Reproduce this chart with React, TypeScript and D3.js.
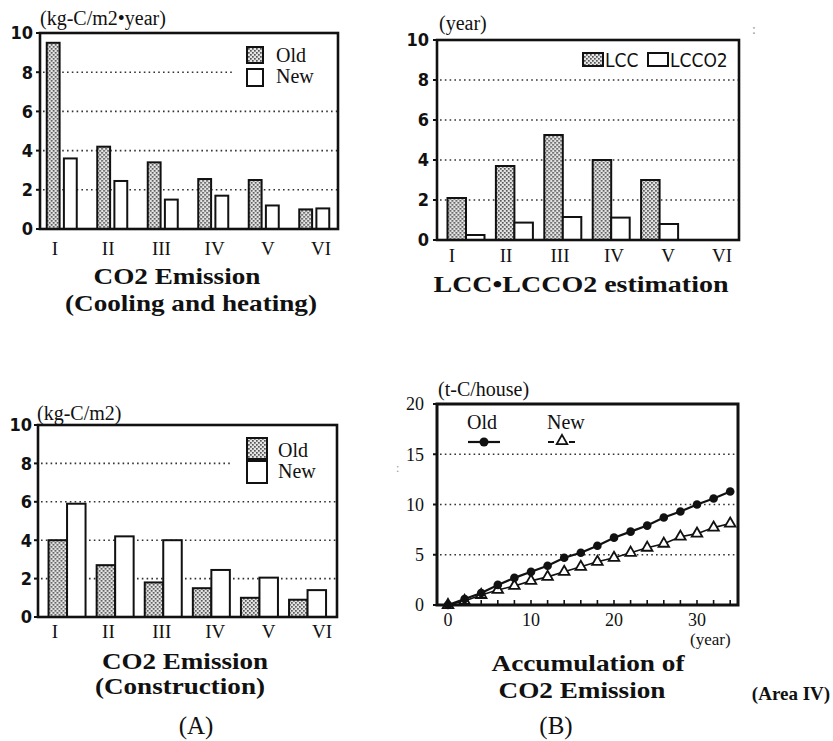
import React from "react";
import * as d3 from "d3";

// ---- data ----
const categories = ["I", "II", "III", "IV", "V", "VI"];
const coolingOld = [9.5, 4.2, 3.4, 2.55, 2.5, 1.0];
const coolingNew = [3.6, 2.45, 1.5, 1.7, 1.2, 1.05];
const lccYears = [2.1, 3.7, 5.25, 4.0, 3.0, 0];
const lcco2Years = [0.25, 0.87, 1.15, 1.12, 0.8, 0];
const constructionOld = [4.0, 2.7, 1.8, 1.5, 1.0, 0.9];
const constructionNew = [5.9, 4.2, 4.0, 2.45, 2.05, 1.4];
const barTicks = [0, 2, 4, 6, 8, 10];

const years = [0, 2, 4, 6, 8, 10, 12, 14, 16, 18, 20, 22, 24, 26, 28, 30, 32, 34];
const accumOld = [0, 0.6, 1.2, 2.0, 2.7, 3.3, 3.9, 4.7, 5.2, 5.9, 6.7, 7.3, 7.9, 8.7, 9.3, 10.0, 10.6, 11.3];
const accumNew = [0, 0.4, 1.0, 1.5, 1.9, 2.4, 2.8, 3.3, 3.8, 4.3, 4.7, 5.2, 5.7, 6.1, 6.8, 7.1, 7.7, 8.1];
const accumYTicks = [0, 5, 10, 15, 20];
const accumXTicks = [0, 10, 20, 30];

const W = 833;
const H = 741;
const serif = "Liberation Serif, Times New Roman, serif";
const narrow = "Liberation Sans Narrow, DejaVu Sans Condensed, sans-serif";

type Frame = { left: number; right: number; top: number; bottom: number };

function BarPanel(props: any) {
  const { frame, seriesA, seriesB, bandRange, groupWidth, pad, labelRange, labelY, tickRight, grid8End, unit, legend, titles, tickFont } = props;
  const f: Frame = frame;
  const y = d3.scaleLinear().domain([0, 10]).range([f.bottom, f.top]);
  const xGroup = d3.scaleBand<string>().domain(categories).range(bandRange);
  const xInner = d3.scaleBand<string>().domain(["a", "b"]).range([0, groupWidth]).paddingInner(pad);
  const xLabel = d3.scalePoint<string>().domain(categories).range(labelRange);
  const off = xGroup.bandwidth() / 2 - groupWidth / 2;

  return (
    <g>
      {/* gridlines */}
      {barTicks.filter((t) => t > 0 && t < 10).map((t) => (
        <line key={t} x1={f.left + 3} x2={t === 8 && grid8End ? grid8End : f.right} y1={y(t)} y2={y(t)}
          stroke="#333" strokeWidth={1.6} strokeDasharray="1.6,3.2" />
      ))}
      {/* bars */}
      {categories.map((c, i) => (
        <g key={c} transform={`translate(${(xGroup(c) as number) + off},0)`}>
          {seriesA[i] > 0 && (
            <rect x={xInner("a")} width={xInner.bandwidth()} y={y(seriesA[i])} height={y(0) - y(seriesA[i])}
              fill="url(#dots)" stroke="#111" strokeWidth={2} />
          )}
          {seriesB[i] > 0 && (
            <rect x={xInner("b")} width={xInner.bandwidth()} y={y(seriesB[i])} height={y(0) - y(seriesB[i])}
              fill="#fff" stroke="#111" strokeWidth={2} />
          )}
        </g>
      ))}
      {/* frame */}
      <rect x={f.left} y={f.top} width={f.right - f.left} height={f.bottom - f.top} fill="none" stroke="#111" strokeWidth={2.6} />
      {/* y ticks */}
      {barTicks.map((t) => (
        <g key={t}>
          <line x1={f.left - 4} x2={f.left} y1={y(t)} y2={y(t)} stroke="#111" strokeWidth={2} />
          <text x={tickRight} y={y(t)} dy="0.36em" textAnchor="end" fontFamily={tickFont.family}
            fontWeight={tickFont.weight} fontSize={tickFont.size} fill="#111">{t}</text>
        </g>
      ))}
      {/* category labels */}
      {categories.map((c) => (
        <text key={c} x={xLabel(c)} y={labelY} textAnchor="middle" fontFamily={serif} fontSize={19} fill="#111">{c}</text>
      ))}
      <text x={unit.x} y={unit.y} fontFamily={serif} fontSize={20} fill="#111">{unit.text}</text>
      {legend.map((l: any) => (
        <g key={l.label}>
          <rect x={l.bx} y={l.by} width={l.bw} height={l.bh} fill={l.fill} stroke="#111" strokeWidth={2} />
          <text x={l.tx} y={l.ty} fontFamily={l.font} fontSize={l.size} fill="#111">{l.label}</text>
        </g>
      ))}
      {titles.map((t: any) => (
        <text key={t.text} x={t.x} y={t.y} textAnchor="middle" fontFamily={serif} fontWeight="bold" fontSize={t.size}
          textLength={t.len} lengthAdjust="spacingAndGlyphs" fill="#111">{t.text}</text>
      ))}
    </g>
  );
}

function AccumPanel() {
  const f: Frame = { left: 437, right: 738, top: 404, bottom: 605 };
  const x = d3.scaleLinear().domain([0, 30]).range([448, 697]);
  const y = d3.scaleLinear().domain([0, 20]).range([605, 404]);
  const line = d3.line<number>().x((_, i) => x(years[i])).y((d) => y(d));
  const tri = d3.symbol().type(d3.symbolTriangle).size(48)() as string;

  return (
    <g>
      {accumYTicks.filter((t) => t > 0 && t < 20).map((t) => (
        <line key={t} x1={f.left + 3} x2={f.right} y1={y(t)} y2={y(t)} stroke="#333" strokeWidth={1.6} strokeDasharray="1.6,3.2" />
      ))}
      <path d={line(accumNew) as string} fill="none" stroke="#111" strokeWidth={1.6} />
      <path d={line(accumOld) as string} fill="none" stroke="#111" strokeWidth={2.2} />
      {accumNew.map((d, i) => (
        <path key={"n" + i} d={tri} transform={`translate(${x(years[i])},${y(d)})`} fill="#fff" stroke="#111" strokeWidth={1.8} />
      ))}
      {accumOld.map((d, i) => (
        <circle key={"o" + i} cx={x(years[i])} cy={y(d)} r={4.3} fill="#111" />
      ))}
      <rect x={f.left} y={f.top} width={f.right - f.left} height={f.bottom - f.top} fill="none" stroke="#111" strokeWidth={3} />
      {years.map((t) => (
        <line key={t} x1={x(t)} x2={x(t)} y1={f.bottom} y2={f.bottom - 5} stroke="#111" strokeWidth={1.6} />
      ))}
      {accumYTicks.map((t) => (
        <g key={t}>
          <line x1={f.left - 4} x2={f.left} y1={y(t)} y2={y(t)} stroke="#111" strokeWidth={2} />
          <text x={424} y={y(t)} dy="0.36em" textAnchor="end" fontFamily={serif} fontSize={18} fill="#111">{t}</text>
        </g>
      ))}
      {accumXTicks.map((t) => (
        <text key={t} x={x(t)} y={626} textAnchor="middle" fontFamily={serif} fontSize={18} fill="#111">{t}</text>
      ))}
      <text x={690} y={645} fontFamily={serif} fontSize={17} fill="#111">(year)</text>
      <text x={438} y={396} fontFamily={serif} fontSize={20} fill="#111">(t-C/house)</text>
      {/* legend */}
      <text x={467} y={429} fontFamily={serif} fontSize={20} fill="#111">Old</text>
      <line x1={468} x2={500} y1={442} y2={442} stroke="#111" strokeWidth={2.2} />
      <circle cx={484} cy={442} r={4.5} fill="#111" />
      <text x={547} y={429} fontFamily={serif} fontSize={20} fill="#111">New</text>
      <line x1={548} x2={554} y1={442} y2={442} stroke="#111" strokeWidth={2} />
      <line x1={569} x2={575} y1={442} y2={442} stroke="#111" strokeWidth={2} />
      <path d={tri} transform="translate(562,441)" fill="#fff" stroke="#111" strokeWidth={1.8} />
      <text x={588} y={671} textAnchor="middle" fontFamily={serif} fontWeight="bold" fontSize={23} textLength={193} lengthAdjust="spacingAndGlyphs" fill="#111">Accumulation of</text>
      <text x={582} y={698} textAnchor="middle" fontFamily={serif} fontWeight="bold" fontSize={23} textLength={167} lengthAdjust="spacingAndGlyphs" fill="#111">CO2 Emission</text>
      <text x={791} y={700} textAnchor="middle" fontFamily={serif} fontWeight="bold" fontSize={19} fill="#111">(Area IV)</text>
      <text x={556} y={734} textAnchor="middle" fontFamily={serif} fontSize={25} fill="#111">(B)</text>
    </g>
  );
}

export default function App() {
  const boldNarrow = { family: narrow, weight: "bold", size: 18 };
  return (
    <svg width={W} height={H} style={{ position: "absolute", left: 0, top: 0, background: "#fff" }}>
      <defs>
        <pattern id="dots" width="4" height="4" patternUnits="userSpaceOnUse">
          <rect width="4" height="4" fill="#e4e4e4" />
          <rect x="0" y="0" width="1.7" height="1.7" fill="#555" />
          <rect x="2" y="2" width="1.7" height="1.7" fill="#555" />
        </pattern>
      </defs>

      {/* cooling and heating */}
      <BarPanel
        frame={{ left: 40, right: 338, top: 33, bottom: 229 }}
        seriesA={coolingOld}
        seriesB={coolingNew}
        bandRange={[36.5, 339.5]}
        groupWidth={30}
        pad={0.25}
        labelRange={[55, 321]}
        labelY={255}
        tickRight={33}
        grid8End={234}
        tickFont={boldNarrow}
        unit={{ text: "(kg-C/m2\u2022year)", x: 40, y: 25 }}
        legend={[
          { label: "Old", bx: 247, by: 47, bw: 16, bh: 16, fill: "url(#dots)", tx: 276, ty: 62, font: serif, size: 20 },
          { label: "New", bx: 247, by: 69, bw: 16, bh: 17, fill: "#fff", tx: 276, ty: 83, font: serif, size: 20 },
        ]}
        titles={[
          { text: "CO2 Emission", x: 177, y: 284, size: 23, len: 167 },
          { text: "(Cooling and heating)", x: 191, y: 311, size: 23, len: 252 },
        ]}
      />

      {/* LCC / LCCO2 */}
      <BarPanel
        frame={{ left: 437, right: 739, top: 40, bottom: 240 }}
        seriesA={lccYears}
        seriesB={lcco2Years}
        bandRange={[441.8, 732.2]}
        groupWidth={37}
        pad={0}
        labelRange={[452, 722]}
        labelY={262}
        tickRight={429}
        grid8End={null}
        tickFont={boldNarrow}
        unit={{ text: "(year)", x: 439, y: 30 }}
        legend={[
          { label: "LCC", bx: 583, by: 53, bw: 20, bh: 13, fill: "url(#dots)", tx: 605, ty: 67, font: narrow, size: 19 },
          { label: "LCCO2", bx: 648, by: 53, bw: 20, bh: 13, fill: "#fff", tx: 670, ty: 67, font: narrow, size: 19 },
        ]}
        titles={[{ text: "LCC\u2022LCCO2 estimation", x: 581, y: 292, size: 23, len: 295 }]}
      />

      {/* construction */}
      <BarPanel
        frame={{ left: 38, right: 337, top: 425, bottom: 617 }}
        seriesA={constructionOld}
        seriesB={constructionNew}
        bandRange={[43, 331.6]}
        groupWidth={37}
        pad={0}
        labelRange={[55, 322]}
        labelY={638}
        tickRight={32}
        grid8End={233}
        tickFont={boldNarrow}
        unit={{ text: "(kg-C/m2)", x: 37, y: 420 }}
        legend={[
          { label: "Old", bx: 247, by: 438, bw: 20, bh: 21, fill: "url(#dots)", tx: 278, ty: 457, font: serif, size: 20 },
          { label: "New", bx: 247, by: 461, bw: 20, bh: 22, fill: "#fff", tx: 278, ty: 478, font: serif, size: 20 },
        ]}
        titles={[
          { text: "CO2 Emission", x: 185, y: 669, size: 23, len: 166 },
          { text: "(Construction)", x: 180, y: 694, size: 23, len: 170 },
        ]}
      />
      <text x={196} y={734} textAnchor="middle" fontFamily={serif} fontSize={25} fill="#111">(A)</text>

      <AccumPanel />

      {/* scan specks */}
      <text x={752} y={34} fontFamily={serif} fontSize={14} fill="#999">:</text>
      <text x={396} y={472} fontFamily={serif} fontSize={12} fill="#999">:</text>
    </svg>
  );
}
